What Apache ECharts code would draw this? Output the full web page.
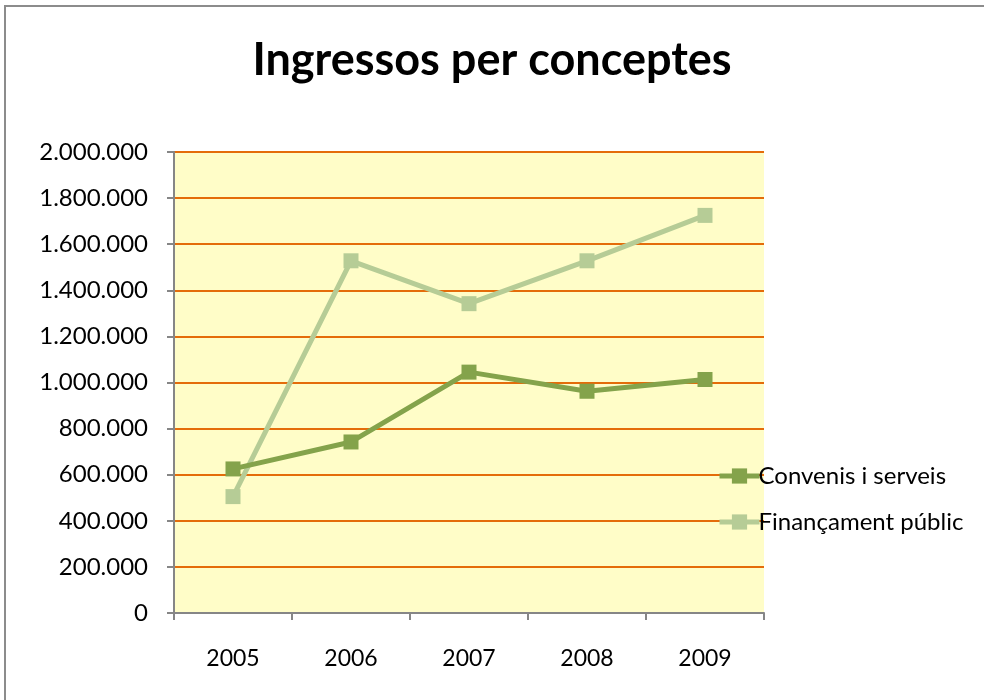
<!DOCTYPE html>
<html>
<head>
<meta charset="utf-8">
<script src="https://cdn.jsdelivr.net/npm/echarts@6/dist/echarts.min.js"></script>
<style>
  html, body { margin: 0; padding: 0; background: #fff; }
  #chart { width: 984px; height: 700px; }
</style>
</head>
<body>
<div id="chart"></div>
<script>
var years = ['2005', '2006', '2007', '2008', '2009'];
var convenis = [625000, 742000, 1045000, 962000, 1013000];
var financament = [505000, 1528000, 1342000, 1528000, 1725000];

// format as 1.800.000
function punts(v) {
  return String(v).replace(/\B(?=(\d{3})+(?!\d))/g, '.');
}

var myChart = echarts.init(document.getElementById('chart'));
var option = {
  backgroundColor: '#fff',
  textStyle: { fontFamily: 'Lato' },
  graphic: [{
    type: 'rect',
    shape: { x: 5, y: 6, width: 990, height: 700 },
    style: { fill: 'none', stroke: '#8c8c8c', lineWidth: 2 },
    silent: true
  }],
  title: {
    text: 'Ingressos per conceptes',
    left: 'center',
    top: 33,
    textStyle: { fontFamily: 'Lato', fontSize: 45, fontWeight: 'bold', color: '#000' }
  },
  legend: {
    orient: 'vertical',
    left: 712,
    top: 459,
    itemWidth: 40,
    itemHeight: 19,
    itemGap: 22,
    lineStyle: { width: 5 },
    textStyle: { fontFamily: 'Lato', fontSize: 24, color: '#000', padding: [0, 0, 0, -6] },
    data: ['Convenis i serveis', 'Finançament públic']
  },
  grid: {
    left: 174,
    right: 220,
    top: 152,
    bottom: 87,
    show: true,
    backgroundColor: '#FFFDC8',
    borderWidth: 0
  },
  xAxis: {
    type: 'category',
    data: years,
    boundaryGap: true,
    axisLine: { lineStyle: { color: '#868686', width: 2 } },
    axisTick: { show: true, length: 7, lineStyle: { color: '#868686', width: 2 } },
    axisLabel: { fontSize: 23, color: '#000', margin: 34 }
  },
  yAxis: {
    type: 'value',
    min: 0,
    max: 2000000,
    interval: 200000,
    axisLine: { show: true, lineStyle: { color: '#868686', width: 2 } },
    axisTick: { show: true, length: 7, lineStyle: { color: '#868686', width: 2 } },
    splitLine: { lineStyle: { color: '#E46C0A', width: 2 } },
    axisLabel: { fontSize: 24, color: '#000', margin: 26, formatter: punts }
  },
  series: [
    {
      name: 'Convenis i serveis',
      type: 'line',
      data: convenis,
      symbol: 'rect',
      symbolSize: 15,
      color: '#84A34B',
      lineStyle: { width: 5 },
      z: 3
    },
    {
      name: 'Finançament públic',
      type: 'line',
      data: financament,
      symbol: 'rect',
      symbolSize: 15,
      color: '#B6CC96',
      lineStyle: { width: 5 },
      z: 2
    }
  ]
};
myChart.setOption(option);
</script>
</body>
</html>
